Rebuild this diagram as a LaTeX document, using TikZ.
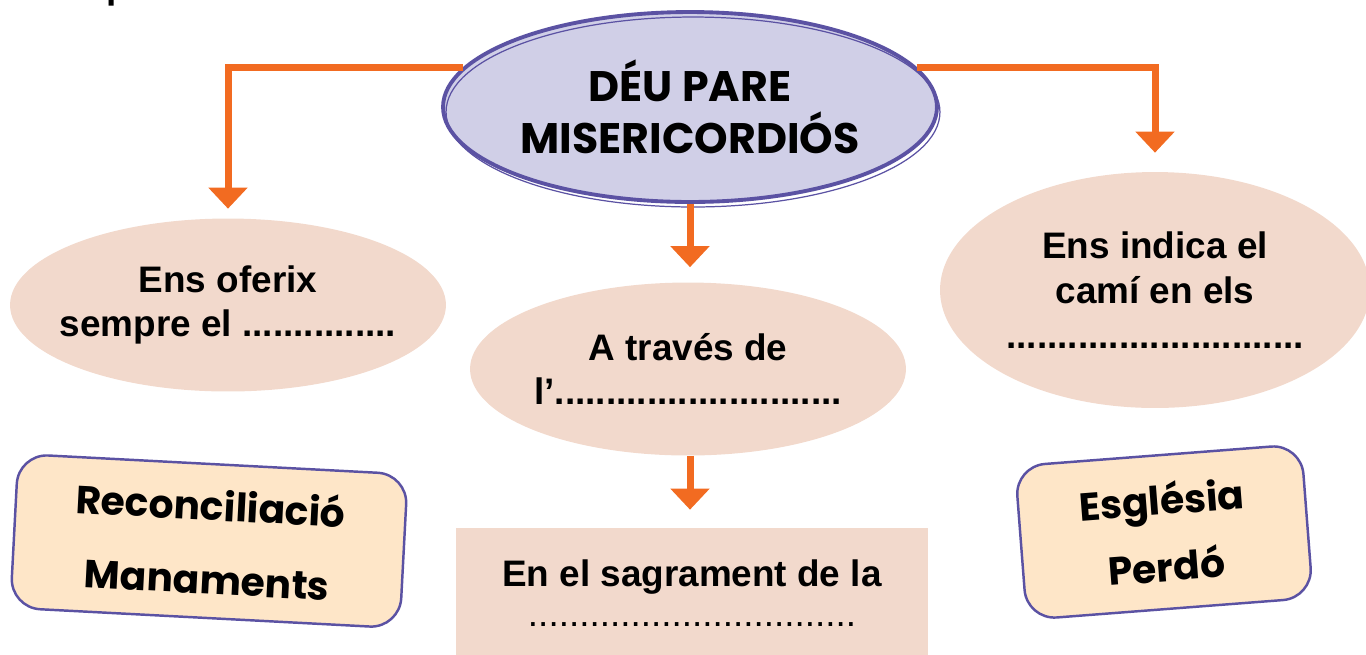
\documentclass[tikz,border=0pt]{standalone}
\usepackage{fontspec}
\setmainfont{Liberation Sans}
\newfontfamily\roundfont{Poppins}
\usetikzlibrary{shapes.geometric,arrows.meta}

\definecolor{arrorange}{HTML}{F26B21}
\definecolor{deufill}{HTML}{D0CFE7}
\definecolor{deuline}{HTML}{5B52A3}
\definecolor{peach}{HTML}{F2D9CC}
\definecolor{cream}{HTML}{FEE6C8}

\begin{document}
\begin{tikzpicture}[x=0.02cm, y=-0.02cm]
    \tikzstyle{deu_node}  = [shape = ellipse, fill = deufill, draw = deuline, line width=2.2pt, minimum width=9.88cm, minimum height=3.8cm, inner sep=-0.5cm, align=center, font=\roundfont\bfseries\fontsize{24.3}{29.5}\selectfont]
    \tikzstyle{deu_rim}   = [shape = ellipse, draw = deuline, line width=0.7pt, minimum width=9.88cm, minimum height=3.8cm, inner sep=0pt]
    \tikzstyle{ask_node}  = [shape = ellipse, fill = peach, minimum width=8.72cm, minimum height=3.46cm, inner sep=-0.5cm, align=center, font=\bfseries\fontsize{21}{25.5}\selectfont]
    \tikzstyle{ask_rect}  = [shape = rectangle, fill = peach, minimum width=9.44cm, minimum height=2.6cm, inner sep=0pt, align=center, font=\fontsize{21}{21}\selectfont]
    \tikzstyle{word_box}  = [shape = rectangle, fill = cream, draw = deuline, line width=1.4pt, rounded corners=0.6cm, minimum height=3.08cm, inner sep=0pt, align=center, font=\roundfont\bfseries\fontsize{22.3}{42}\selectfont]
    \tikzstyle{arr_line}  = [draw = arrorange, line width=0.14cm, line join=miter, -{Triangle[width=0.76cm, length=0.42cm]}]

    \useasboundingbox (0,0) rectangle (1366,654);

    \node[anchor=base west, inner sep=0pt, font=\bfseries\fontsize{21}{21}\selectfont] at (106,-2) (frag) {p};

    \node[ask_node] at (228, 305) (oferix) {Ens oferix\\sempre el ...............};
    \node[ask_node] at (688, 369) (traves) {A través de\\l'............................};
    \node[ask_node, minimum width=8.6cm, minimum height=4.72cm] at (1155, 290) (cami) {Ens indica el\\camí en els\\.............................};

    \node[ask_rect] at (692, 593) (sagr) {\textbf{En el sagrament de la}\\[0.06cm]................................};

    \node[word_box, minimum width=7.8cm, rotate=-3] at (209, 541) (reconc) {Reconciliació\\Manaments};
    \node[word_box, minimum width=5.74cm, rotate=4.4, font=\roundfont\bfseries\fontsize{22.3}{38}\selectfont] at (1164, 532) (esgl) {Església\\Perdó};

    \node[deu_node] at (690, 107) (deu) {DÉU PARE\\MISERICORDIÓS};
    \node[deu_rim] at (693, 112) (deurim) {};

    \draw[arr_line, shorten >=0.19cm] (deu.170) -| (oferix.north);
    \draw[arr_line, shorten >=0.38cm] (deu.10) -| (cami.north);
    \draw[arr_line, shorten >=0.3cm] (deu.south) -- (deu.south |- traves.north);
    \draw[arr_line, shorten >=0.36cm] (deu.south |- traves.south) -- (deu.south |- sagr.north);
  \end{tikzpicture}
\end{document}
